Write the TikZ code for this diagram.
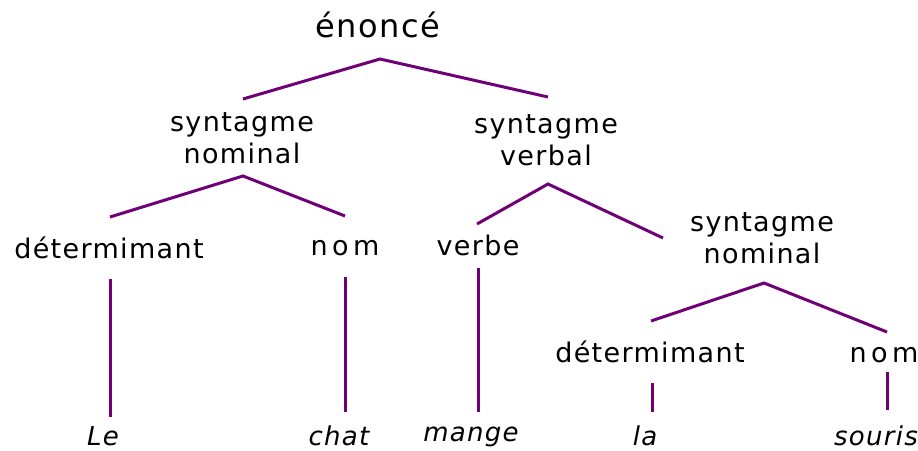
\documentclass[tikz,border=0pt]{standalone}
\usepackage{fontspec}
\setmainfont{DejaVu Sans}[LetterSpace=5]
\definecolor{branch}{RGB}{112,0,118}
\begin{document}
\begin{tikzpicture}[x=1pt,y=-1pt,
  lbl/.style={inner sep=0pt,anchor=base,font=\fontsize{27}{32}\selectfont},
  lbl2/.style={inner sep=0pt,anchor=center,align=center,font=\fontsize{27}{32}\selectfont},
  word/.style={inner sep=0pt,anchor=base,font=\fontsize{26}{30}\selectfont\itshape},
  edge/.style={draw=branch,line width=3pt}]
\useasboundingbox (0,0) rectangle (918,450);

% category labels
\node[inner sep=0pt,anchor=base,font=\fontsize{32}{38}\selectfont] (s) at (378,37) {énoncé};
\node[lbl2] (sn1) at (242,138) {syntagme\\nominal};
\node[lbl2] (sv) at (546,140) {syntagme\\verbal};
\node[lbl] (det1) at (109,258) {détermimant};
\node[lbl] (nom1) at (345,255) {n\kern4.5pt o\kern4.5pt m};
\node[lbl] (verbe) at (478,255) {verbe};
\node[lbl2] (sn2) at (762,238) {syntagme\\nominal};
\node[lbl] (det2) at (650,362) {détermimant};
\node[lbl] (nom2) at (884,362) {n\kern4.5pt o\kern4.5pt m};

% the words of the sentence
\node[word] (le) at (103,445) {Le};
\node[word] (chat) at (339,445) {chat};
\node[word] (mange) at (471,441) {mange};
\node[word] (la) at (645,445) {la};
\node[word] (souris) at (876,445) {souris};

% branch points
\coordinate (a0) at (380,59);  \coordinate (a0l) at (243,99);  \coordinate (a0r) at (548,97);
\coordinate (a1) at (243,176); \coordinate (a1l) at (110,217); \coordinate (a1r) at (345,216);
\coordinate (a2) at (548,184); \coordinate (a2l) at (477,224); \coordinate (a2r) at (663,238);
\coordinate (a3) at (764,283); \coordinate (a3l) at (651,321); \coordinate (a3r) at (887,332);

\draw[edge] (a0l) -- (a0) -- (a0r);
\draw[edge] (a1l) -- (a1) -- (a1r);
\draw[edge] (a2l) -- (a2) -- (a2r);
\draw[edge] (a3l) -- (a3) -- (a3r);

% stems from the word classes down to the words
\coordinate (t1) at (110,279); \coordinate (b1) at (110,417);
\coordinate (t2) at (345,277); \coordinate (b2) at (345,412);
\coordinate (t3) at (478,268); \coordinate (b3) at (478,412);
\coordinate (t4) at (652,383); \coordinate (b4) at (652,412);
\coordinate (t5) at (887,372); \coordinate (b5) at (887,410);
\draw[edge] (t1) -- (b1);
\draw[edge] (t2) -- (b2);
\draw[edge] (t3) -- (b3);
\draw[edge] (t4) -- (b4);
\draw[edge] (t5) -- (b5);
\end{tikzpicture}
\end{document}
